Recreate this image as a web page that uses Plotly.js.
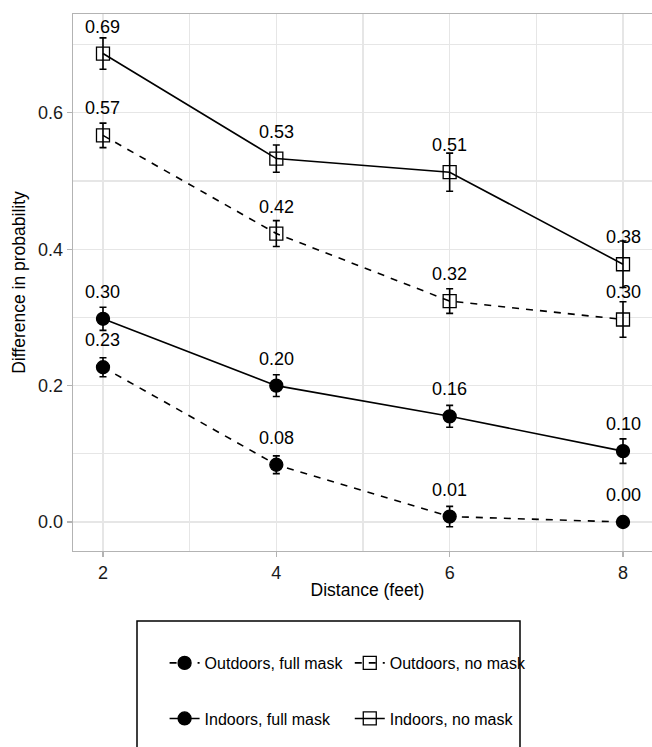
<!DOCTYPE html>
<html><head><meta charset="utf-8">
<script src="https://cdn.plot.ly/plotly-3.0.1.min.js"></script>
<style>html,body{margin:0;padding:0;overflow:hidden;background:#fff}</style>
</head><body><div id="chart" style="width:662px;height:747px"></div>
<script>
const distance = [2, 4, 6, 8];
const xTickLabels = ["2", "4", "6", "8"];
const yTickVals = [0, 0.2, 0.4, 0.6];

const outdoorsFull = [0.227, 0.084, 0.008, 0.000];
const outdoorsFullErr = [0.014, 0.013, 0.015, 0.001];
const outdoorsFullLabels = ["0.23", "0.08", "0.01", "0.00"];

const outdoorsNo = [0.567, 0.423, 0.324, 0.297];
const outdoorsNoErr = [0.018, 0.019, 0.018, 0.026];
const outdoorsNoLabels = ["0.57", "0.42", "0.32", "0.30"];

const indoorsFull = [0.298, 0.200, 0.155, 0.104];
const indoorsFullErr = [0.017, 0.016, 0.016, 0.018];
const indoorsFullLabels = ["0.30", "0.20", "0.16", "0.10"];

const indoorsNo = [0.687, 0.533, 0.513, 0.378];
const indoorsNoErr = [0.023, 0.020, 0.028, 0.034];
const indoorsNoLabels = ["0.69", "0.53", "0.51", "0.38"];

const seriesNames = ["Outdoors, full mask", "Outdoors, no mask", "Indoors, full mask", "Indoors, no mask"];

const FONT = "Liberation Sans, Arial, Helvetica, sans-serif";

function mkTrace(name, y, err, symbol, dash, legendId) {
  return {
    type: "scatter", mode: "lines+markers", name: name,
    x: distance, y: y,
    legend: legendId,
    line: {color: "black", width: 1.6, dash: dash},
    marker: {symbol: symbol, size: 13, color: "black", line: {color: "black", width: 1.3}},
    error_y: {type: "data", array: err, visible: true, color: "black", thickness: 1.6, width: 3.5},
    hoverinfo: "x+y"
  };
}

const traces = [
  mkTrace(seriesNames[0], outdoorsFull, outdoorsFullErr, "circle", "7px,7px", "legend"),
  mkTrace(seriesNames[1], outdoorsNo, outdoorsNoErr, "square-open", "7px,7px", "legend2"),
  mkTrace(seriesNames[2], indoorsFull, indoorsFullErr, "circle", "solid", "legend3"),
  mkTrace(seriesNames[3], indoorsNo, indoorsNoErr, "square-open", "solid", "legend4")
];

const annotations = [];
[[outdoorsFull, outdoorsFullLabels], [outdoorsNo, outdoorsNoLabels],
 [indoorsFull, indoorsFullLabels], [indoorsNo, indoorsNoLabels]].forEach(([ys, labs]) => {
  ys.forEach((v, i) => {
    annotations.push({
      x: distance[i], y: v, xref: "x", yref: "y", text: labs[i], showarrow: false,
      yshift: 27, font: {family: FONT, size: 18, color: "black"}
    });
  });
});

const gridC = "#e6e6e6";
const borderC = "#b3b3b3";

function legendAt(x, y) {
  return {x: x, y: y, xanchor: "left", yanchor: "middle", orientation: "h",
    bgcolor: "rgba(0,0,0,0)", borderwidth: 0,
    font: {family: FONT, size: 16, color: "black"}};
}

const layout = {
  width: 662, height: 747,
  margin: {l: 73, r: 0, t: 14, b: 196, autoexpand: false},
  paper_bgcolor: "white", plot_bgcolor: "white",
  font: {family: FONT, color: "black"},
  showlegend: true,
  xaxis: {
    range: [1.654, 8.45], tickvals: distance, ticktext: xTickLabels,
    showgrid: true, gridcolor: gridC, gridwidth: 1.2,
    minor: {dtick: 1, tick0: 0, showgrid: true, gridcolor: gridC, gridwidth: 1.2, ticklen: 0},
    zeroline: false, showline: true, mirror: true, linecolor: borderC, linewidth: 1.3,
    ticks: "outside", ticklen: 5, tickcolor: borderC, tickwidth: 1.2,
    tickfont: {family: FONT, size: 18, color: "#1a1a1a"},
    title: {text: "Distance (feet)", font: {family: FONT, size: 17.5, color: "black"}, standoff: 1}
  },
  yaxis: {
    range: [-0.0425, 0.745], tickvals: yTickVals, tickformat: ".1f",
    showgrid: true, gridcolor: gridC, gridwidth: 1.2,
    minor: {dtick: 0.1, tick0: 0, showgrid: true, gridcolor: gridC, gridwidth: 1.2, ticklen: 0},
    zeroline: false, showline: true, mirror: true, linecolor: borderC, linewidth: 1.3,
    ticks: "outside", ticklen: 5, tickcolor: borderC, tickwidth: 1.2,
    tickfont: {family: FONT, size: 18, color: "#1a1a1a"},
    title: {text: "Difference in probability", font: {family: FONT, size: 17.5, color: "black"}, standoff: 8}
  },
  legend: legendAt(0.1555, -0.2086),
  legend2: legendAt(0.4699, -0.2086),
  legend3: legendAt(0.1555, -0.312),
  legend4: legendAt(0.4699, -0.312),
  shapes: [{
    type: "rect", xref: "paper", yref: "paper",
    x0: (137 - 73) / 589, x1: (520 - 73) / 589,
    y0: 1 - (621 - 14) / 537, y1: 1 - (800 - 14) / 537,
    line: {color: "black", width: 1.5}, fillcolor: "rgba(0,0,0,0)"
  }],
  annotations: annotations
};

Plotly.newPlot("chart", traces, layout, {displayModeBar: false, staticPlot: true});
</script></body></html>
